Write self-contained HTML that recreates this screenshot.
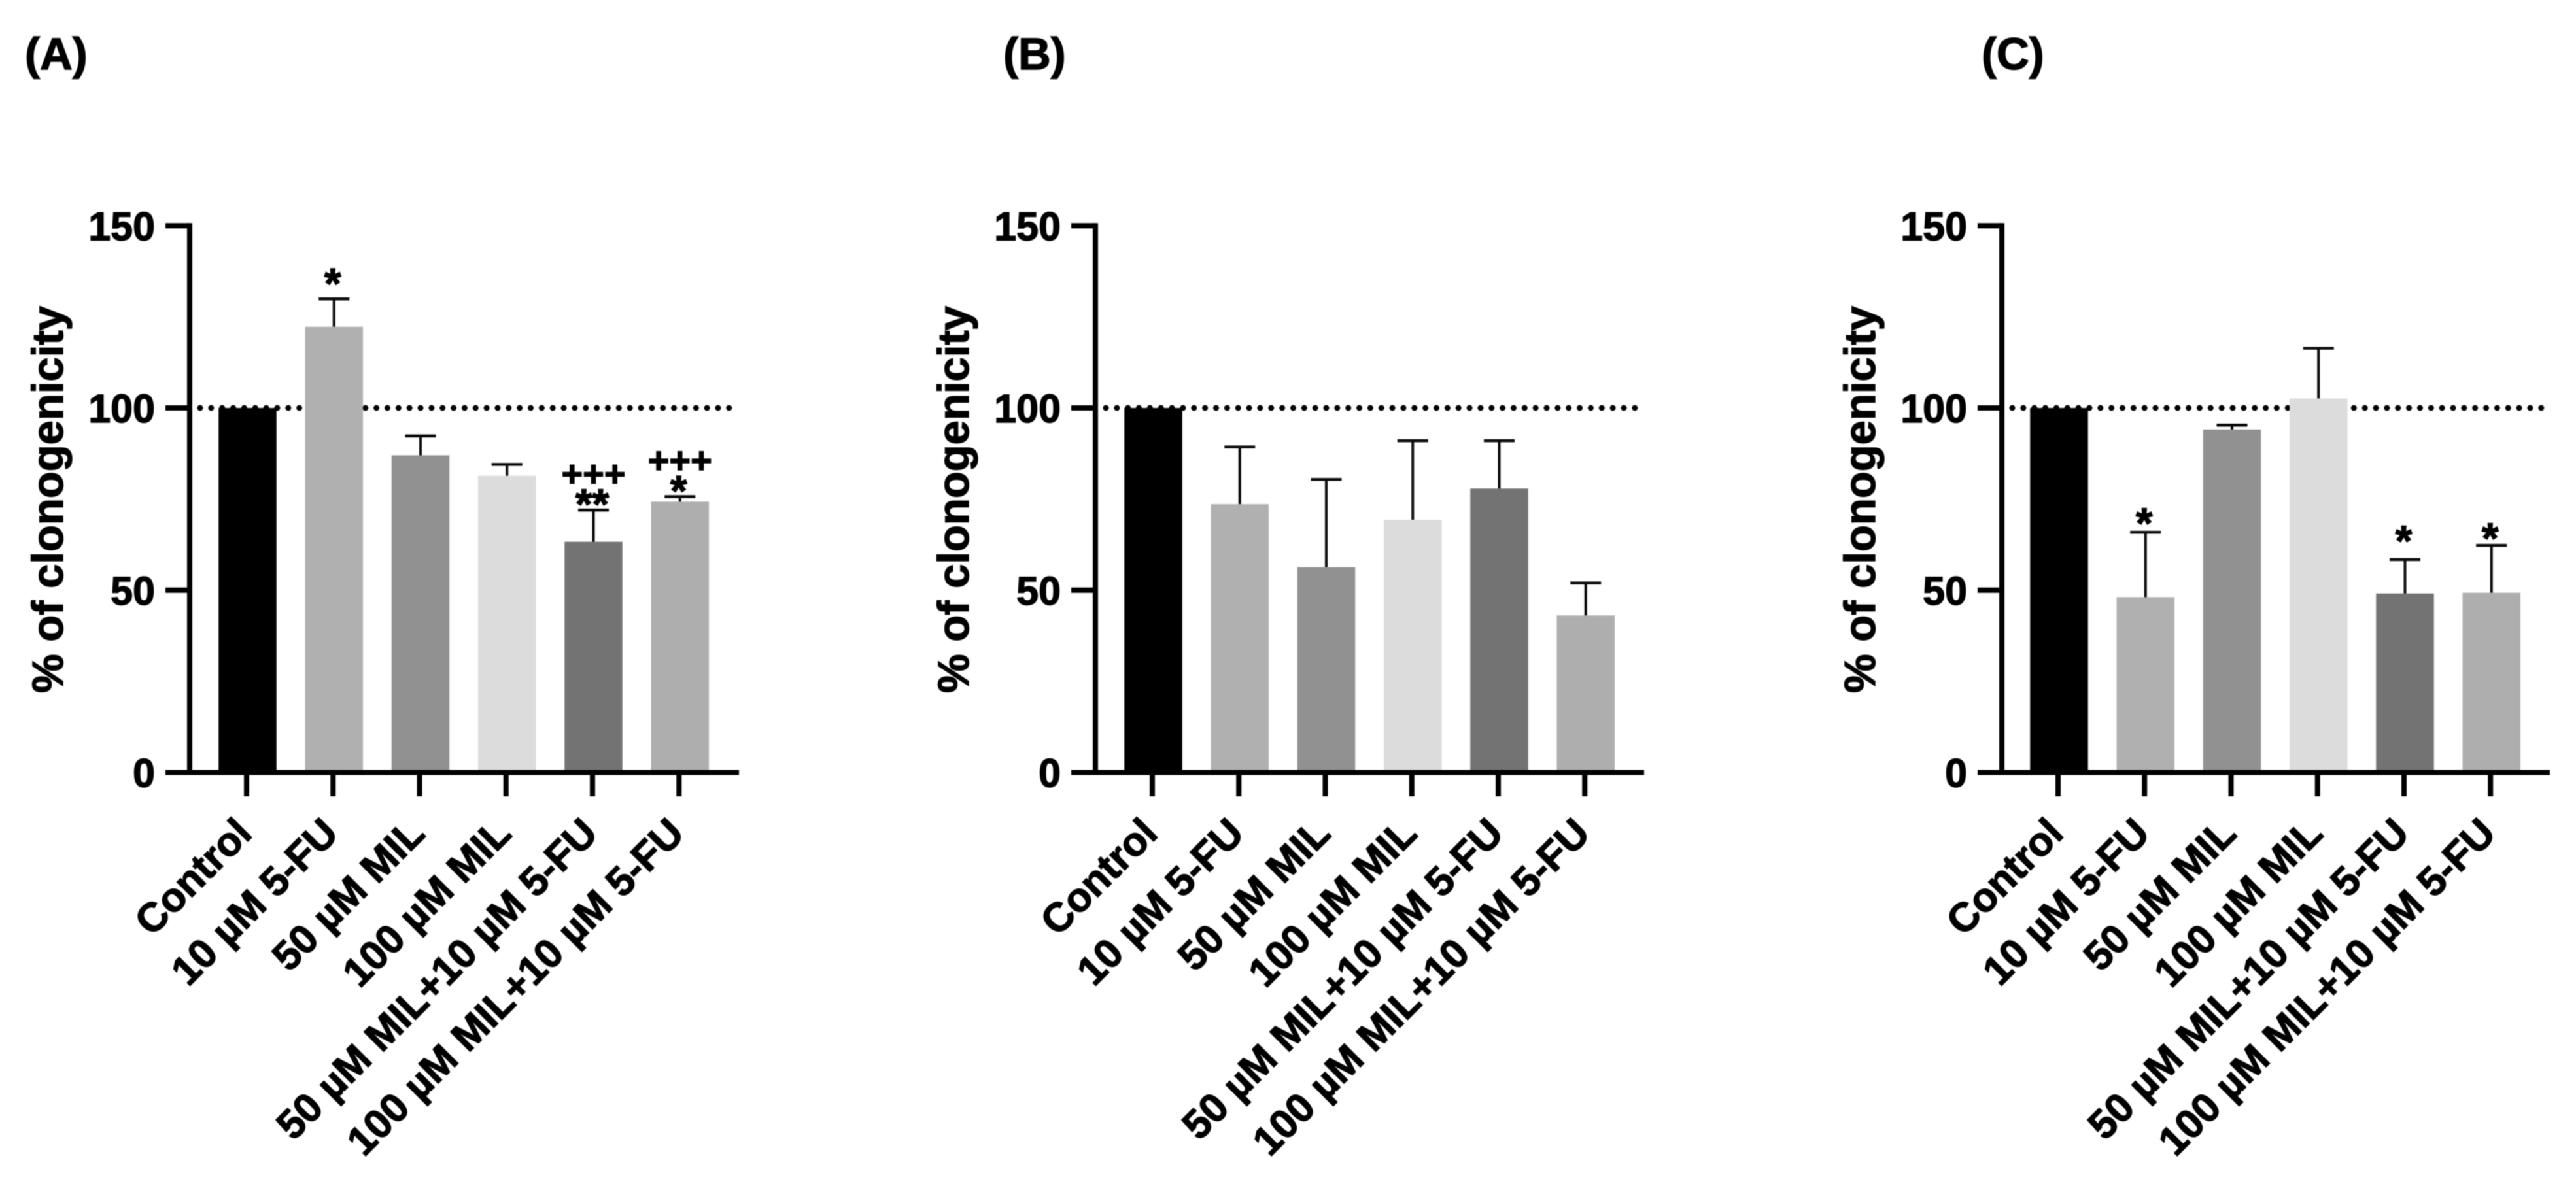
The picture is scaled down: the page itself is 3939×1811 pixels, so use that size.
<!DOCTYPE html>
<html lang="en">
<head>
<meta charset="utf-8">
<title>Percent of clonogenicity by treatment, panels A to C</title>
<style>
  html, body { margin: 0; padding: 0; background: #fff; }
  body { width: 3939px; height: 1811px; overflow: hidden; }
  svg { display: block; filter: blur(0.7px); }
  text { font-family: "Liberation Sans", "Noto Sans CJK SC", sans-serif; font-weight: 700; fill: #000; stroke: #000; stroke-width: 1.4px; }
</style>
</head>
<body>
<svg id="figure" xmlns="http://www.w3.org/2000/svg" width="3939" height="1811" viewBox="0 0 3939 1811">
  <rect x="0" y="0" width="3939" height="1811" fill="#ffffff"/>
</svg>
<script>
const categories = ["Control", "10 \u00B5M 5-FU", "50 \u00B5M MIL", "100 \u00B5M MIL", "50 \u00B5M MIL+10 \u00B5M 5-FU", "100 \u00B5M MIL+10 \u00B5M 5-FU"];
const yTickValues = [0, 50, 100, 150];
const referenceLevel = 100;

const valuesA = [100, 122.3, 87, 81.4, 63.3, 74.3];
const errorsA = [0, 7.6, 5.3, 3.1, 8.7, 1.4];
const starsA = ["", "*", "", "", "**", "*"];
const plusA = ["", "", "", "", "+++", "+++"];
const starLiftA = [0, 2.7, 0, 0, 0, 0];

const valuesB = [100, 73.6, 56.3, 69.3, 77.9, 43.1];
const errorsB = [0, 15.7, 24.1, 21.7, 13.1, 8.9];
const starsB = ["", "", "", "", "", ""];
const plusB = ["", "", "", "", "", ""];
const starLiftB = [0, 0, 0, 0, 0, 0];

const valuesC = [100, 48.1, 94.1, 102.6, 49.1, 49.3];
const errorsC = [0, 17.8, 1.2, 13.8, 9.3, 13];
const starsC = ["", "*", "", "", "*", "*"];
const plusC = ["", "", "", "", "", ""];
const starLiftC = [0, 0.9, 0, 0, 3.6, 0.4];

const barColors = ["#000000", "#b0b0b1", "#919191", "#dcdcdc", "#737373", "#aeaeae"];

const SVG_NS = "http://www.w3.org/2000/svg";
const root = document.getElementById("figure");
const yZero = 1181.5;
const yScale = 5.575;
const tickSpacing = 132.25;
const barWidth = 88.5;

function yPos(v) { return yZero - v * yScale; }

function shape(parent, tag, props) {
  const el = document.createElementNS(SVG_NS, tag);
  for (const k in props) el.setAttribute(k, props[k]);
  parent.appendChild(el);
  return el;
}

function drawPanel(p) {
  const xTick = (i) => p.firstTick + i * tickSpacing;
  const xBar = (i) => xTick(i) + 1.5;

  const g = shape(root, "g", {});
  
  

  const title = shape(g, "text", { x: p.titleX, y: 106, "font-size": 69 });
  
  
  title.textContent = "(" + p.key.toUpperCase() + ")";

  const refLine = shape(g, "line", {
    x1: p.axisX + 16, x2: p.dotEnd, y1: yPos(referenceLevel), y2: yPos(referenceLevel),
    stroke: "#000", "stroke-width": 9, "stroke-linecap": "round", "stroke-dasharray": "0 16.85"
  });
  
  

  p.values.forEach((v, i) => {
    const bar = shape(g, "rect", {
      x: xBar(i) - barWidth / 2, y: yPos(v), width: barWidth, height: yZero - yPos(v), fill: barColors[i]
    });
    
    

    if (p.errors[i] > 0) {
      const top = yPos(v + p.errors[i]);
      const stem = shape(g, "line", { x1: xBar(i), x2: xBar(i), y1: yPos(v), y2: top, stroke: "#0a0a0a", "stroke-width": 4 });
      
      
      const cap = shape(g, "line", { x1: xBar(i) - 23.5, x2: xBar(i) + 23.5, y1: top, y2: top, stroke: "#0a0a0a", "stroke-width": 4.5 });
      
      
    }

    const capTop = yPos(v + p.errors[i]);
    if (p.stars[i]) {
      const star = shape(g, "text", { x: xBar(i) - 2, y: yPos(v + p.errors[i] + p.starLift[i]) + 14, "font-size": 66, "text-anchor": "middle" });
      
      
      star.textContent = p.stars[i];
    }
    if (p.plus[i]) {
      const plus = shape(g, "text", { x: xBar(i), y: capTop - 36, "font-size": 56, "text-anchor": "middle" });
      
      
      plus.textContent = p.plus[i];
    }
  });

  const yAxis = shape(g, "line", { x1: p.axisX, x2: p.axisX, y1: yPos(150) - 4, y2: yZero + 4, stroke: "#000", "stroke-width": 8 });
  
  

  const xAxis = shape(g, "line", { x1: p.axisX - 37, x2: p.axisEnd, y1: yZero, y2: yZero, stroke: "#000", "stroke-width": 8 });
  
  

  yTickValues.forEach((t) => {
    const tick = shape(g, "line", { x1: p.axisX - 37, x2: p.axisX, y1: yPos(t), y2: yPos(t), stroke: "#000", "stroke-width": 8 });
    
    
    const label = shape(g, "text", { x: p.axisX - 53, y: yPos(t) + 22, "font-size": 61, "text-anchor": "end" });
    
    
    label.textContent = t;
  });

  const yTitle = shape(g, "text", {
    transform: "translate(" + (p.axisX - 194) + ",764) rotate(-90)", "font-size": 67, "text-anchor": "middle"
  });
  
  
  yTitle.textContent = "% of clonogenicity";

  categories.forEach((c, i) => {
    const tick = shape(g, "line", { x1: xTick(i), x2: xTick(i), y1: yZero, y2: 1218, stroke: "#000", "stroke-width": 8 });
    
    
    const label = shape(g, "text", {
      transform: "translate(" + (xTick(i) + 11) + ",1278) rotate(-45)", "font-size": 62, "text-anchor": "end"
    });
    
    
    label.textContent = c;
  });
}

drawPanel({ key: "a", titleX: 38, axisX: 290, axisEnd: 1130, dotEnd: 1121, firstTick: 377, values: valuesA, errors: errorsA, stars: starsA, plus: plusA, starLift: starLiftA });
drawPanel({ key: "b", titleX: 1534, axisX: 1675, axisEnd: 2514, dotEnd: 2506, firstTick: 1762, values: valuesB, errors: errorsB, stars: starsB, plus: plusB, starLift: starLiftB });
drawPanel({ key: "c", titleX: 3030, axisX: 3061, axisEnd: 3899, dotEnd: 3891, firstTick: 3147, values: valuesC, errors: errorsC, stars: starsC, plus: plusC, starLift: starLiftC });
</script>
</body>
</html>
